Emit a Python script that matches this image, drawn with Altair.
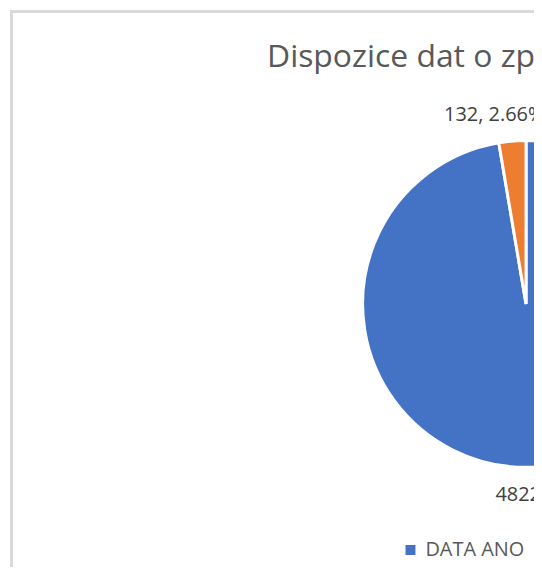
import altair as alt
import pandas as pd

# ---- data ----
categories = ["DATA ANO", "DATA NE"]
values = [4822, 132]
order_idx = [0, 1]
colors = ["#4472C4", "#ED7D31"]
title_text = ["Dispozice dat o zpracování"]

df = pd.DataFrame({"cat": categories, "value": values, "idx": order_idx})
one = pd.DataFrame({"t": title_text})

W, H = 528, 560
CX, CY, R = 520, 296, 164
FONT = "Open Sans"

base = alt.Chart(df).transform_joinaggregate(total="sum(value)").transform_calculate(
    label="datum.value + ', ' + format(datum.value / datum.total * 100, '.2f') + '%'"
)

theta = alt.Theta("value:Q", stack=True)
order = alt.Order("idx:Q", sort="ascending")

pie = base.mark_arc(outerRadius=R, stroke="white", strokeWidth=3).encode(
    theta=theta,
    order=order,
    color=alt.Color(
        "cat:N",
        sort=categories,
        scale=alt.Scale(domain=categories, range=colors),
        legend=alt.Legend(
            orient="none", legendX=394, legendY=533, direction="horizontal",
            title=None, symbolType="square", symbolSize=100, symbolStrokeWidth=0,
            labelFontSize=20, labelColor="#595959", labelFont=FONT,
            labelOffset=5, columnPadding=40, padding=0,
        ),
    ),
    x=alt.value(CX),
    y=alt.value(CY),
)

lab_ne = base.transform_calculate(
    t="datum.cat == 'DATA NE' ? datum.label : ''"
).mark_text(radius=190, dx=-16, fontSize=20, font=FONT, color="#404040").encode(
    theta=theta, order=order, text="t:N", x=alt.value(CX), y=alt.value(CY)
)

lab_ano = base.transform_calculate(
    t="datum.cat == 'DATA ANO' ? datum.label : ''"
).mark_text(radius=192, dx=15, fontSize=20, font=FONT, color="#404040").encode(
    theta=theta, order=order, text="t:N", x=alt.value(CX), y=alt.value(CY)
)

title = alt.Chart(one).mark_text(
    align="left", baseline="alphabetic", fontSize=32, font=FONT, color="#595959"
).encode(text="t:N", x=alt.value(260), y=alt.value(58))

border_l = alt.Chart(one).mark_rule(color="#d9d9d9", strokeWidth=3).encode(
    x=alt.value(3.5), y=alt.value(1), y2=alt.value(H)
)
border_t = alt.Chart(one).mark_rule(color="#d9d9d9", strokeWidth=3).encode(
    y=alt.value(2.5), x=alt.value(2), x2=alt.value(W)
)

chart = alt.layer(border_l, border_t, pie, lab_ne, lab_ano, title).properties(
    width=W, height=H, padding=0, autosize="none"
).configure_view(stroke=None)

chart.save("out.html", embed_options={"renderer": "svg", "actions": False})
